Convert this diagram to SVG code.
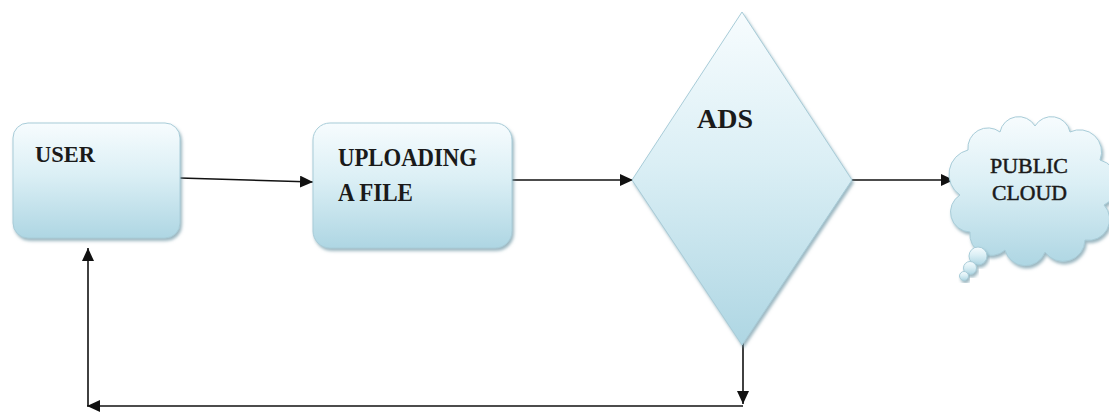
<svg xmlns="http://www.w3.org/2000/svg" width="1109" height="414" viewBox="0 0 1109 414">
  <style>
    .shape { fill: url(#fillGrad); stroke: #a8ccd8; stroke-width: 1; filter: url(#shadow); }
    .label { font-family: "Liberation Serif", "Times New Roman", serif; font-weight: bold; fill: #1a1a1a; }
    .cloudlabel { font-family: "Liberation Serif", "Times New Roman", serif; font-weight: normal; fill: #1a1a1a; stroke: #1a1a1a; stroke-width: 0.5; }
    .conn { fill: none; stroke: #111; stroke-width: 1.6; }
  </style>
  <defs>
    <linearGradient id="fillGrad" x1="0" y1="0" x2="0" y2="1">
      <stop offset="0" stop-color="#f7fcfe"/>
      <stop offset="0.45" stop-color="#dbeff5"/>
      <stop offset="1" stop-color="#aed6e3"/>
    </linearGradient>
    <filter id="shadow" x="-10%" y="-10%" width="125%" height="130%">
      <feDropShadow dx="1.5" dy="2.5" stdDeviation="1.5" flood-color="#6f98a6" flood-opacity="0.7"/>
    </filter>
    <marker id="arrow" markerUnits="userSpaceOnUse" markerWidth="14" markerHeight="12" refX="13" refY="6" orient="auto">
      <path d="M0,0 L13,6 L0,12 z" fill="#111"/>
    </marker>
  </defs>

  <rect width="1109" height="414" fill="#ffffff"/>

  <!-- connectors -->
  <g id="connectors">
    <line class="conn" x1="180" y1="178" x2="313" y2="182" marker-end="url(#arrow)"/>
    <line class="conn" x1="512" y1="180" x2="633" y2="180" marker-end="url(#arrow)"/>
    <line class="conn" x1="852" y1="180" x2="954" y2="180" marker-end="url(#arrow)"/>
    <line class="conn" x1="743" y1="343" x2="743" y2="404" marker-end="url(#arrow)"/>
    <line class="conn" x1="743" y1="406" x2="87" y2="406" marker-end="url(#arrow)"/>
    <line class="conn" x1="88" y1="406" x2="88" y2="248" marker-end="url(#arrow)"/>
  </g>

  <!-- user box -->
  <g id="user">
    <rect class="shape" x="13" y="123" width="167" height="115" rx="15" ry="15"/>
    <text class="label" x="35" y="162" font-size="24" textLength="60" lengthAdjust="spacingAndGlyphs">USER</text>
  </g>

  <!-- upload step -->
  <g id="upload">
    <rect class="shape" x="313" y="123" width="199" height="125" rx="17" ry="17"/>
    <text class="label" x="338" y="166" font-size="25" textLength="139" lengthAdjust="spacingAndGlyphs">UPLOADING</text>
    <text class="label" x="338" y="201" font-size="25" textLength="75" lengthAdjust="spacingAndGlyphs">A FILE</text>
  </g>

  <!-- decision diamond -->
  <g id="ads">
    <polygon class="shape" points="742,12 852,180 742,345 632,180"/>
    <text class="label" x="697" y="128" font-size="27" textLength="56" lengthAdjust="spacingAndGlyphs">ADS</text>
  </g>

  <!-- cloud with thought bubbles -->
  <g id="public-cloud">
    <path class="shape" d="M960,195 A25,25 0 0 1 968,150 A20,20 0 0 1 1000,132 A19,19 0 0 1 1035,126 A19,19 0 0 1 1070,132 A22,22 0 0 1 1100,160 A24,24 0 0 1 1104,205 A21,21 0 0 1 1085,240 A22,22 0 0 1 1045,252 A21,21 0 0 1 1005,250 A21,21 0 0 1 970,232 A20,20 0 0 1 960,195 Z"/>
    <circle class="shape" cx="978" cy="256" r="9"/>
    <circle class="shape" cx="970" cy="268" r="6.5"/>
    <circle class="shape" cx="964" cy="276" r="4.5"/>
    <text class="cloudlabel" x="990" y="173" font-size="22" textLength="78" lengthAdjust="spacingAndGlyphs">PUBLIC</text>
    <text class="cloudlabel" x="992" y="200" font-size="22" textLength="75" lengthAdjust="spacingAndGlyphs">CLOUD</text>
  </g>
</svg>
